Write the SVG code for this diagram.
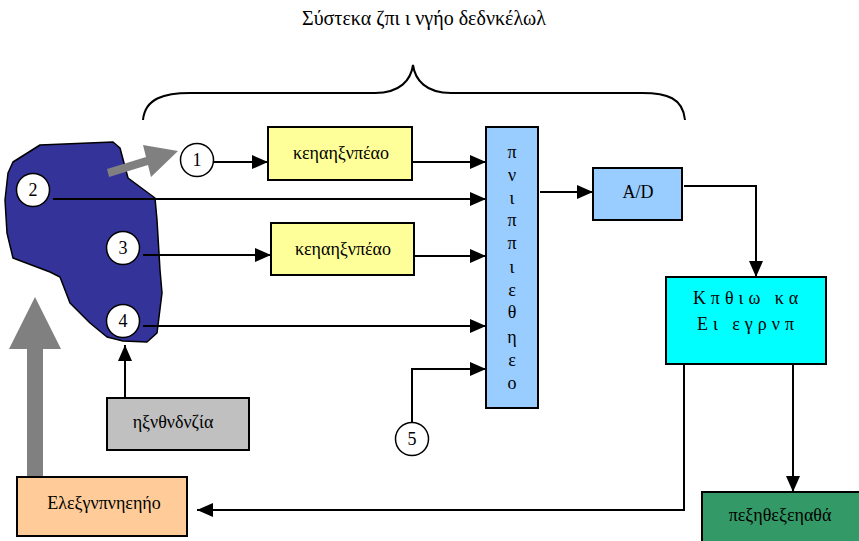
<svg xmlns="http://www.w3.org/2000/svg" width="859" height="541" viewBox="0 0 859 541" font-family="'Liberation Serif', 'Times New Roman', serif">
<defs>
<style>
text{font-family:'Liberation Serif','Times New Roman',serif}
.t{font-size:18px;fill:#000;text-anchor:middle}
.n{font-size:18px;fill:#000;text-anchor:middle}
.box{stroke:#000;stroke-width:2}
.ln{fill:none;stroke:#000;stroke-width:2}
.c{fill:#fff;stroke:#000;stroke-width:1.5}
</style>
<marker id="ah" markerWidth="16" markerHeight="14" refX="16" refY="7" orient="auto" markerUnits="userSpaceOnUse">
<path d="M0,0 L16,7 L0,14 Z" fill="#000"/>
</marker>
</defs>
<rect width="859" height="541" fill="#fff"/>

<text class="t" x="424" y="25" style="font-size:20px">Σύστεκα ζπι ι νγήο δεδνκέλωλ</text>
<path class="ln" d="M143,120 C145,98 165,93 190,93 L375,93 C400,93 411,80 413,65 C415,80 426,93 451,93 L642,93 C667,93 683,98 685,120"/>

<g id="blob">
<path d="M13,162 L40,145 L113,142 L120,148 L128,178 L155,198 L157,220 L160,270 L162,293 L157,333 L147,342 L123,341 L107,337 L90,323 L70,303 L60,277 L50,272 L13,258 L7,233 L5,200 L8,173 Z" fill="#333399" stroke="#000" stroke-width="1.5" stroke-linejoin="round"/>
</g>
<g id="arrow-out"><polygon points="107,169 146,157 143,145 178,151 151,177 148,165 109,177" fill="#808080"/></g>
<g id="arrow-up"><polygon points="27,477 27,349 9,349 35,297 61,349 43,349 43,477" fill="#808080"/></g>

<g id="connectors">
<line class="ln" x1="214" y1="162" x2="268" y2="162" marker-end="url(#ah)"/>
<line class="ln" x1="412" y1="162" x2="486" y2="162" marker-end="url(#ah)"/>
<line class="ln" x1="53" y1="199" x2="486" y2="199" marker-end="url(#ah)"/>
<line class="ln" x1="143" y1="255" x2="271" y2="255" marker-end="url(#ah)"/>
<line class="ln" x1="414" y1="256" x2="486" y2="256" marker-end="url(#ah)"/>
<line class="ln" x1="143" y1="326" x2="486" y2="326" marker-end="url(#ah)"/>
<polyline class="ln" points="412,423 412,369 486,369" marker-end="url(#ah)"/>
<line class="ln" x1="540" y1="192" x2="593" y2="192" marker-end="url(#ah)"/>
<polyline class="ln" points="684,186 756,186 756,277" marker-end="url(#ah)"/>
<line class="ln" x1="793" y1="364" x2="793" y2="492" marker-end="url(#ah)"/>
<polyline class="ln" points="684,364 684,510 197,510" marker-end="url(#ah)"/>
<line class="ln" x1="125" y1="398" x2="125" y2="345" marker-end="url(#ah)"/>
</g>

<g id="c1"><circle class="c" cx="197" cy="160" r="16.5"/><text class="n" x="197" y="166">1</text></g>
<g id="c2"><circle class="c" cx="33" cy="190" r="16.5"/><text class="n" x="33" y="196">2</text></g>
<g id="c3"><circle class="c" cx="123" cy="248" r="16.5"/><text class="n" x="123" y="254">3</text></g>
<g id="c4"><circle class="c" cx="123" cy="321" r="16.5"/><text class="n" x="123" y="327">4</text></g>
<g id="c5"><circle class="c" cx="412" cy="439" r="16.5"/><text class="n" x="412" y="445">5</text></g>

<g id="conv1"><rect class="box" x="268" y="127" width="144" height="53" fill="#FFFF99"/><text class="t" x="341" y="159">κεηαηξνπέαο</text></g>
<g id="conv2"><rect class="box" x="271" y="223" width="143" height="52" fill="#FFFF99"/><text class="t" x="343" y="255">κεηαηξνπέαο</text></g>

<g id="mux"><rect class="box" x="486" y="127" width="52" height="281" fill="#99CCFF"/>
<text class="t" x="512" y="158">π</text>
<text class="t" x="512" y="181">ν</text>
<text class="t" x="512" y="204">ι</text>
<text class="t" x="512" y="226">π</text>
<text class="t" x="512" y="249">π</text>
<text class="t" x="512" y="273">ι</text>
<text class="t" x="512" y="296">ε</text>
<text class="t" x="512" y="318">θ</text>
<text class="t" x="512" y="343">η</text>
<text class="t" x="512" y="366">ε</text>
<text class="t" x="512" y="389">ο</text>
</g>

<g id="ad"><rect class="box" x="593" y="168" width="89" height="52" fill="#99CCFF"/><text class="t" x="638" y="198">A/D</text></g>

<g id="ctrl"><rect class="box" x="666" y="277" width="160" height="87" fill="#00FFFF"/>
<text class="t" x="748" y="304" style="letter-spacing:5px">Κπθιω κα</text>
<text class="t" x="748" y="330" style="letter-spacing:5px">Ει εγρνπ</text>
</g>

<g id="periph"><rect class="box" x="702" y="492" width="160" height="55" fill="#339966"/><text class="t" x="780" y="521">πεξηθεξεηαθά</text></g>

<g id="power"><rect class="box" x="107" y="398" width="142" height="52" fill="#C0C0C0"/><text class="t" x="173" y="428">ηξνθνδνζία</text></g>

<g id="actuator"><rect class="box" x="17" y="477" width="170" height="59" fill="#FFCC99"/><text class="t" x="104" y="509">Ελεξγνπνηεηήο</text></g>
</svg>
